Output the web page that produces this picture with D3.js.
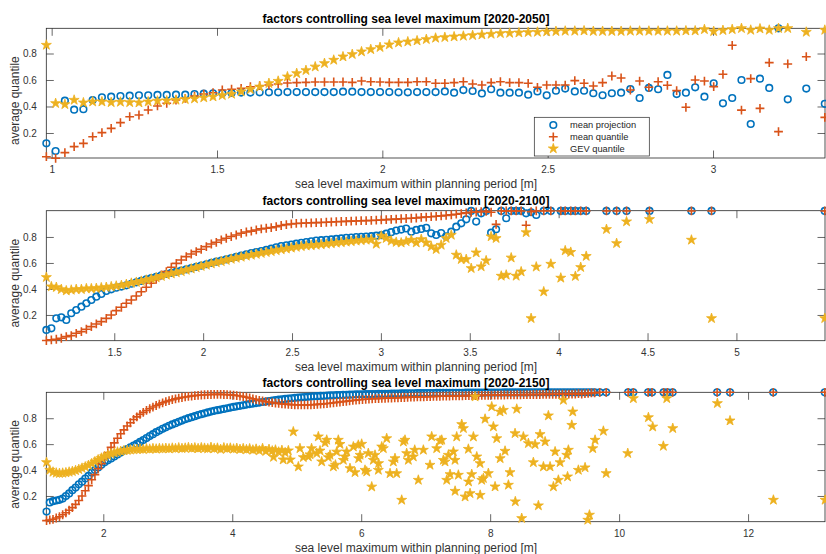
<!DOCTYPE html>
<html lang="en">
<head>
<meta charset="UTF-8">
<title>factors controlling sea level maximum</title>
<script src="https://d3js.org/d3.v7.min.js"></script>
<style>
    body {margin:0; background:#fff;}
    text {font-family:"Liberation Sans", Arial, Helvetica, sans-serif;}
</style>
</head>
<body>
<div id="fig"></div>
<script>
// ---------- panel 1 : 2020-2050 ----------
const p1X = [0.984,1.012,1.040,1.068,1.096,1.124,1.152,1.180,1.208,1.236,1.264,1.292,1.320,1.348,1.376,1.404,1.432,1.460,1.488,1.516,
    1.544,1.573,1.601,1.629,1.657,1.685,1.713,1.741,1.769,1.797,1.825,1.853,1.881,1.909,1.937,1.965,1.993,2.021,2.049,2.077,
    2.105,2.133,2.161,2.189,2.217,2.245,2.273,2.301,2.329,2.357,2.385,2.413,2.441,2.469,2.497,2.525,2.553,2.582,2.610,2.638,
    2.666,2.694,2.722,2.750,2.778,2.806,2.834,2.862,2.890,2.918,2.946,2.974,3.002,3.030,3.058,3.086,3.114,3.142,3.170,3.198,
    3.226,3.282,3.338];
const p1Proj = [.122,.064,.444,.376,.38,.449,.469,.474,.479,.482,.484,.484,.487,.487,.489,.489,.494,.497,.50,.50,
    .502,.505,.505,.507,.507,.507,.509,.509,.509,.509,.509,.509,.512,.512,.509,.509,.509,.509,.507,.507,
    .509,.509,.509,.514,.504,.524,.517,.499,.530,.504,.504,.504,.489,.514,.484,.519,.535,.514,.519,.50,
    .485,.50,.504,.532,.464,.54,.53,.638,.494,.504,.545,.474,.575,.424,.464,.60,.268,.61,.54,.99,
    .454,.535,.42];
const p1Quant = [.021,.009,.052,.097,.122,.172,.203,.235,.278,.323,.336,.374,.404,.424,.449,.462,.479,.494,.504,.525,
    .530,.537,.549,.557,.562,.570,.577,.58,.582,.585,.585,.585,.585,.582,.592,.587,.585,.582,.582,.582,
    .587,.587,.575,.575,.58,.587,.570,.562,.58,.587,.58,.58,.575,.545,.562,.562,.562,.595,.575,.555,
    .58,.63,.615,.524,.592,.545,.587,.56,.52,.394,.60,.592,.55,.643,.862,.373,.61,.386,.731,.21,
    .721,.776,.318];
const p1Gev = [.864,.424,.416,.449,.429,.436,.436,.431,.434,.431,.429,.436,.442,.444,.449,.454,.459,.467,.474,.484,
    .494,.512,.530,.549,.575,.592,.625,.650,.673,.70,.726,.751,.776,.794,.814,.831,.847,.867,.882,.889,
    .897,.907,.917,.922,.927,.932,.937,.942,.947,.952,.954,.957,.96,.962,.965,.967,.97,.97,.972,.968,
    .968,.968,.968,.97,.97,.97,.97,.97,.97,.972,.972,.982,.967,.975,.982,.99,.977,.987,.977,.99,
    .99,.962,.977];

// ---------- panel 2 : 2020-2100 ----------
const p2X = [1.118,1.146,1.174,1.202,1.230,1.258,1.286,1.315,1.343,1.371,1.399,1.427,1.455,1.483,1.511,1.540,1.568,1.596,1.624,1.652,
    1.680,1.708,1.736,1.765,1.793,1.821,1.849,1.877,1.905,1.933,1.961,1.989,2.018,2.046,2.074,2.102,2.130,2.158,2.186,2.214,
    2.243,2.271,2.299,2.327,2.355,2.383,2.411,2.439,2.468,2.496,2.524,2.552,2.580,2.608,2.636,2.664,2.693,2.721,2.749,2.777,
    2.805,2.833,2.861,2.889,2.917,2.946,2.974,3.002,3.030,3.058,3.086,3.114,3.142,3.171,3.199,3.227,3.255,3.283,3.311,3.339,
    3.367,3.396,3.424,3.452,3.480,3.508,3.536,3.564,3.592,3.620,3.648,
    3.677,3.705,3.733,3.761,3.789,3.817,3.845,3.874,3.916,3.956,4.012,4.037,4.068,4.094,4.124,4.155,4.269,4.326,4.382,4.511,
    4.747,4.860,5.497];
const p2Proj = [.085,.097,.174,.182,.162,.213,.238,.264,.29,.315,.341,.362,.385,.397,.41,.418,.428,.44,.451,.462,
    .474,.484,.494,.505,.515,.524,.533,.542,.551,.56,.57,.58,.59,.60,.61,.619,.628,.638,.647,.656,
    .666,.676,.684,.692,.70,.71,.72,.73,.736,.742,.748,.755,.761,.767,.772,.775,.778,.781,.785,.789,
    .793,.796,.799,.801,.803,.806,.81,.814,.825,.837,.849,.857,.865,.841,.854,.862,.87,.828,.815,.83,
    .805,.841,.879,.905,.936,1.0,.918,.982,1.0,.833,.859,
    1.0,.944,1.0,1.0,1.0,.982,.99,.969,1.0,1.0,1.0,1.0,1.0,1.0,1.0,1.0,1.0,1.0,1.0,1.0,
    1.0,1.0,1.0];
const p2Quant = [.003,.008,.013,.021,.033,.041,.059,.072,.09,.11,.131,.149,.174,.20,.233,.259,.29,.315,.346,.379,
    .413,.444,.474,.508,.533,.567,.597,.623,.649,.669,.687,.705,.726,.746,.759,.777,.79,.803,.815,.828,
    .838,.845,.854,.862,.867,.872,.879,.888,.895,.90,.904,.906,.907,.909,.91,.911,.913,.915,.917,.919,
    .92,.922,.923,.925,.926,.927,.929,.931,.933,.935,.937,.94,.942,.944,.946,.951,.953,.956,.959,.962,
    .966,.97,.975,.98,.985,.99,.992,.995,.997,.99,.897,
    1.0,1.0,1.0,1.0,1.0,.89,.995,1.0,1.0,1.0,1.0,1.0,1.0,1.0,1.0,1.0,1.0,1.0,1.0,1.0,
    1.0,1.0,1.0];
const p2Gev = [.49,.418,.413,.397,.387,.392,.397,.397,.403,.403,.405,.41,.413,.418,.423,.428,.436,.445,.452,.46,
    .469,.477,.487,.498,.508,.517,.526,.535,.545,.555,.565,.575,.584,.594,.603,.612,.621,.63,.638,.646,
    .654,.661,.668,.675,.682,.689,.696,.703,.709,.716,.722,.728,.732,.735,.738,.742,.746,.75,.754,.758,
    .762,.766,.77,.774,.777,.78,.746,.808,.79,.77,.76,.755,.765,.777,.756,.782,.756,.726,.705,.738,
    .79,.815,.662,.628,.628,.559,.679,.572,.618,.803,.79,
    .50,.508,.64,.50,.533,.835,.174,.57,.379,.592,.485,.695,.683,.498,.567,.652,.859,.751,.918,.936,
    .777,.174,.174];

// ---------- panel 3 : 2020-2150 ----------
const p3X = [1.12,1.17,1.22,1.27,1.32,1.37,1.42,1.47,1.52,1.57,1.62,1.67,1.72,1.77,1.82,1.87,1.92,1.97,2.02,2.07,
    2.12,2.17,2.22,2.27,2.32,2.37,2.42,2.47,2.52,2.57,2.62,2.67,2.72,2.77,2.82,2.87,2.92,2.97,3.02,3.07,
    3.12,3.17,3.22,3.27,3.32,3.37,3.42,3.47,3.52,3.57,3.62,3.67,3.72,3.77,3.82,3.87,3.92,3.97,4.02,4.07,
    4.12,4.17,4.22,4.27,4.32,4.37,4.42,4.47,4.52,4.57,4.62,4.67,4.72,4.77,4.82,4.87,4.92,4.97,5.02,5.07,
    5.12,5.17,5.22,5.27,5.32,5.37,5.42,5.47,5.52,5.57,5.62,5.67,5.72,5.77,5.82,5.87,5.92,5.97,6.02,6.07,
    6.12,6.17,6.22,6.27,6.32,6.37,6.42,6.47,6.52,6.57,6.62,6.67,6.72,6.77,6.82,6.87,6.92,6.97,7.02,7.07,
    7.12,7.17,7.22,7.27,7.32,7.37,7.42,7.47,7.52,7.57,7.62,7.67,7.72,7.77,7.82,7.87,7.92,7.97,8.02,8.07,
    8.12,8.17,8.22,8.27,8.32,8.37,8.42,8.47,8.52,8.57,8.62,8.67,8.72,8.77,8.82,8.87,8.92,8.97,9.02,9.07,
    9.12,9.17,9.22];
const p3Proj = [.08,.15,.16,.165,.17,.18,.2,.22,.245,.265,.29,.31,.335,.355,.38,.40,.42,.44,.46,.475,
    .49,.505,.52,.535,.55,.562,.575,.588,.602,.617,.632,.647,.662,.677,.692,.705,.718,.73,.742,.752,
    .762,.772,.782,.792,.80,.808,.816,.824,.831,.838,.845,.851,.857,.862,.867,.872,.877,.882,.887,.892,
    .896,.90,.905,.909,.913,.917,.921,.925,.929,.933,.936,.94,.943,.946,.949,.952,.954,.957,.959,.961,
    .963,.965,.967,.969,.97,.972,.973,.975,.976,.977,.978,.979,.98,.981,.982,.983,.984,.985,.985,.986,
    .986,.987,.987,.988,.988,.989,.989,.99,.99,.99,.991,.991,.992,.992,.992,.993,.993,.993,.994,.994,
    .994,.995,.995,.995,.995,.996,.996,.996,.996,.996,.997,.997,.997,.997,.997,.997,.998,.998,.998,.998,
    .998,.998,.999,.999,.999,.999,.999,.999,.999,.999,1,1,1,1,1,1,1,1,1,1,
    1,1,1];
const p3Quant = [.01,.015,.02,.03,.04,.055,.07,.09,.11,.135,.165,.20,.24,.28,.325,.365,.41,.45,.495,.535,
    .575,.61,.645,.68,.71,.74,.765,.79,.81,.83,.845,.86,.873,.886,.898,.909,.919,.928,.936,.943,
    .949,.955,.96,.964,.968,.971,.974,.977,.979,.981,.982,.983,.984,.984,.984,.983,.982,.98,.978,.975,
    .971,.967,.962,.956,.95,.944,.938,.933,.928,.924,.92,.917,.914,.911,.909,.907,.905,.904,.903,.903,
    .903,.903,.904,.905,.907,.909,.911,.913,.916,.919,.922,.925,.928,.931,.934,.937,.94,.942,.944,.946,
    .948,.95,.951,.952,.953,.954,.955,.956,.957,.958,.959,.96,.961,.962,.963,.964,.965,.965,.966,.967,
    .968,.968,.969,.97,.97,.971,.972,.972,.973,.973,.974,.974,.975,.975,.976,.976,.977,.977,.978,.978,
    .978,.979,.979,.98,.98,.98,.981,.981,.982,.982,.982,.983,.983,.983,.984,.984,.984,.985,.985,.985,
    .986,.986,.986];
const p3Gev = [.46,.40,.385,.378,.375,.377,.38,.385,.39,.397,.405,.415,.425,.437,.45,.465,.48,.493,.505,.515,
    .525,.533,.54,.545,.55,.553,.556,.558,.56,.562,.56,.565,.562,.566,.563,.567,.565,.568,.565,.57,
    .566,.572,.567,.57,.574,.568,.572,.566,.573,.569,.565,.575,.566,.57,.56,.572,.566,.57,.563,.568,
    .56,.566,.558,.565,.555,.562,.55,.567,.545,.56,.548,.555,.54,.552,.535,.55];
// scattered GEV quantile points beyond the dense band
const p3ScX = [4.64,4.79,4.90,4.947,5.025,5.05,5.102,5.18,5.206,5.23,5.31,5.335,5.361,5.387,5.439,5.465,5.49,5.516,5.568,5.60,
    5.62,5.645,5.671,5.723,5.749,5.775,5.826,5.878,5.904,5.955,5.96,5.982,6.007,6.059,6.085,6.11,6.163,6.188,6.214,6.266,
    6.27,6.318,6.343,6.395,6.447,6.498,6.524,6.55,6.628,6.654,6.679,6.705,6.731,6.808,6.83,6.886,6.964,7.067,7.093,7.171,
    7.223,7.249,7.274,7.30,7.326,7.352,7.378,7.43,7.455,7.456,7.481,7.507,7.559,7.585,7.611,7.662,7.665,7.688,7.714,7.74,
    7.766,7.792,7.843,7.845,7.869,7.895,7.921,7.972,8.024,8.05,8.076,8.102,8.153,8.155,8.205,8.231,8.283,8.308,8.386,8.39,
    8.412,8.489,8.515,8.593,8.67,8.697,8.748,8.774,8.826,8.852,8.903,8.929,8.981,9.007,9.058,9.084,9.136,9.188,9.2,9.213,
    9.266,9.281,9.368,9.472,9.514,9.54,9.591,9.627,9.756,9.799,10.134,10.221,10.454,10.521,10.686,10.739,10.832,11.524,11.72,12.393,
    13.195];
const p3ScY = [.50,.48,.48,.696,.426,.567,.498,.503,.52,.567,.529,.658,.549,.465,.611,.632,.498,.516,.426,.44,
    .541,.632,.60,.477,.503,.542,.413,.58,.382,.593,.49,.516,.601,.40,.387,.529,.271,.477,.516,.40,
    .452,.58,.567,.644,.374,.464,.49,.374,.169,.618,.632,.529,.477,.503,.555,.323,.555,.439,.658,.567,
    .626,.632,.477,.464,.323,.516,.367,.542,.477,.238,.657,.362,.753,.722,.194,.562,.31,.22,.367,.657,
    .966,.503,.452,.207,.323,.336,.794,.375,.889,.735,.272,.644,.85,.49,.863,.547,.285,.382,.683,.157,
    .871,.028,.657,.606,.459,.598,.126,.676,.426,.619,.82,.426,.272,.542,.323,.459,.94,.516,.349,.555,
    .747,.85,.40,.419,.015,.054,.567,.632,.701,.375,.529,.953,.806,.734,.585,.953,.722,.915,.781,.169,
    .169];
// isolated bins at the top (projection and quantile both near 1)
const p3TopX = [9.27,9.32,9.37,9.42,9.47,9.52,9.57,9.62,9.70,9.80,10.14,10.22,10.45,10.51,10.69,10.75,10.83,11.52,11.72,12.39,13.19];
const p3TopProj = [1,1,1,1,1,1,1,1,1,1,1,1,1,1,1,1,1,1,1,1,1];
const p3TopQuant = [.986,.987,.99,.987,.99,.992,.995,.995,1,1,1,1,1,1,1,1,1,1,1,1,1];

const legendNames = ["mean projection", "mean quantile", "GEV quantile"];
const yTicks = [0.2, 0.4, 0.6, 0.8];

let blue = "#0072BD", red = "#D95319", yellow = "#EDB120", ink = "#262626";
let w = 826, h = 554;
let left = 46.3, right = 825;

let svg = d3.select("#fig").append("svg").attr("width", w).attr("height", h);

function markers(g, xs, ys, sx, sy, kind) {
    let pts = d3.zip(xs, ys);
    if (kind === "o") {
        g.append("g").selectAll("circle").data(pts).join("circle")
            .attr("cx", d => sx(d[0])).attr("cy", d => sy(d[1])).attr("r", 3.3)
            .attr("fill", "none").attr("stroke", blue).attr("stroke-width", 1.6);
    } else if (kind === "+") {
        g.append("g").selectAll("path").data(pts).join("path")
            .attr("d", d => `M${sx(d[0]) - 4.4},${sy(d[1])}h8.8M${sx(d[0])},${sy(d[1]) - 4.4}v8.8`)
            .attr("stroke", red).attr("stroke-width", 1.6).attr("fill", "none");
    } else {
        let star = d3.symbol().type(d3.symbolStar).size(31)();
        g.append("g").selectAll("path").data(pts).join("path")
            .attr("d", star)
            .attr("transform", d => `translate(${sx(d[0])},${sy(d[1])})`)
            .attr("fill", yellow).attr("stroke", yellow).attr("stroke-width", 0.8)
            .attr("stroke-linejoin", "round");
    }
}

function panel(cfg) {
    let sx = d3.scaleLinear().domain(cfg.xDom).range([left, right]);
    let sy = d3.scaleLinear().domain(cfg.yDom).range([cfg.bottom, cfg.top]);
    let g = svg.append("g");

    let style = a => {
        a.select(".domain").remove();
        a.selectAll("line").attr("stroke", ink).attr("stroke-width", 0.7);
        a.selectAll("text").attr("fill", "#333").attr("font-size", 10)
            .attr("font-family", '"Liberation Sans", Arial, sans-serif');
    };
    g.append("g").attr("transform", `translate(0,${cfg.bottom})`)
        .call(d3.axisBottom(sx).tickValues(cfg.xTicks).tickFormat(d => d).tickSizeInner(-7.5).tickSizeOuter(0).tickPadding(8.3))
        .call(style);
    g.append("g").attr("transform", `translate(0,${cfg.top})`)
        .call(d3.axisTop(sx).tickValues(cfg.xTicks).tickFormat("").tickSizeInner(-7.5).tickSizeOuter(0))
        .call(style);
    g.append("g").attr("transform", `translate(${left},0)`)
        .call(d3.axisLeft(sy).tickValues(yTicks).tickFormat(d => d).tickSizeInner(-7.5).tickSizeOuter(0).tickPadding(9.5))
        .call(style);
    g.append("g").attr("transform", `translate(${right},0)`)
        .call(d3.axisRight(sy).tickValues(yTicks).tickFormat("").tickSizeInner(-7.5).tickSizeOuter(0))
        .call(style);
    g.append("rect").attr("x", left).attr("y", cfg.top)
        .attr("width", right - left).attr("height", cfg.bottom - cfg.top)
        .attr("fill", "none").attr("stroke", ink).attr("stroke-width", 0.8);

    markers(g, cfg.proj[0], cfg.proj[1], sx, sy, "o");
    markers(g, cfg.quant[0], cfg.quant[1], sx, sy, "+");
    markers(g, cfg.gev[0], cfg.gev[1], sx, sy, "p");

    g.append("text").attr("x", 406).attr("y", cfg.top - 5.3).attr("text-anchor", "middle")
        .attr("font-size", 12).attr("font-weight", "bold").attr("fill", "#000").text(cfg.title);
    g.append("text").attr("x", 416).attr("y", cfg.bottom + 30).attr("text-anchor", "middle")
        .attr("font-size", 12).attr("fill", "#333").text("sea level maximum within planning period [m]");
    let cy = (cfg.top + cfg.bottom) / 2 + 7.5;
    g.append("text").attr("transform", `translate(18.8,${cy}) rotate(-90)`).attr("text-anchor", "middle")
        .attr("font-size", 12).attr("fill", "#333").text("average quantile");
    return g;
}

let g1 = panel({
    top: 28.3, bottom: 158, xDom: [0.9838, 3.3386], yDom: [0.0113, 0.9902],
    xTicks: [1, 1.5, 2, 2.5, 3], title: "factors controlling sea level maximum [2020-2050]",
    proj: [p1X, p1Proj], quant: [p1X, p1Quant], gev: [p1X, p1Gev]
});
panel({
    top: 210.7, bottom: 340.7, xDom: [1.1176, 5.4984], yDom: [0.002, 1.002],
    xTicks: [1.5, 2, 2.5, 3, 3.5, 4, 4.5, 5], title: "factors controlling sea level maximum [2020-2100]",
    proj: [p2X, p2Proj], quant: [p2X, p2Quant], gev: [p2X, p2Gev]
});
panel({
    top: 392.3, bottom: 521.7, xDom: [1.116, 13.193], yDom: [0.0015, 1.0],
    xTicks: [2, 4, 6, 8, 10, 12], title: "factors controlling sea level maximum [2020-2150]",
    proj: [p3X.concat(p3TopX), p3Proj.concat(p3TopProj)],
    quant: [p3X.concat(p3TopX), p3Quant.concat(p3TopQuant)],
    gev: [p3X.slice(0, p3Gev.length).concat(p3ScX), p3Gev.concat(p3ScY)]
});

// legend in the first panel
let lg = g1.append("g");
lg.append("rect").attr("x", 534.3).attr("y", 117.3).attr("width", 115).attr("height", 38.7)
    .attr("fill", "#fff").attr("stroke", ink).attr("stroke-width", 0.7);
let rows = [125, 136.8, 148.6];
let kinds = ["o", "+", "p"];
legendNames.forEach(function (name, i) {
    markers(lg, [0], [0], () => 553.3, () => rows[i], kinds[i]);
    lg.append("text").attr("x", 570).attr("y", rows[i]).attr("dy", "0.35em")
        .attr("font-size", 9.3).attr("fill", ink).text(name);
});
</script>
</body>
</html>
